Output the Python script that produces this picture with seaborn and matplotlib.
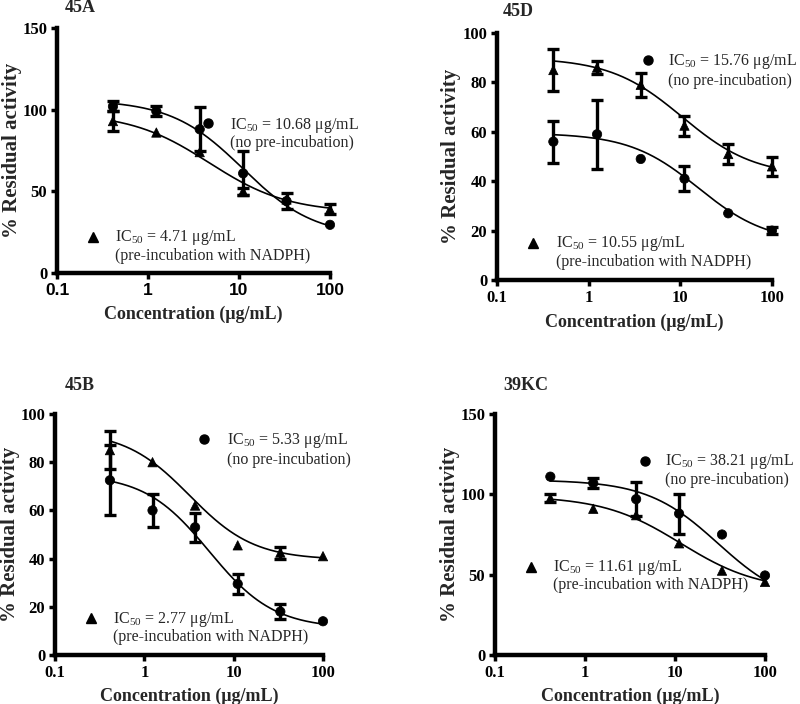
import numpy as np
import pandas as pd
import matplotlib
matplotlib.use("Agg")
import matplotlib.pyplot as plt
import seaborn as sns

# 3-fold dilution series (ug/mL)
conc = [0.412, 1.235, 3.70, 11.1, 33.3, 100]

# 45A
a_circ = [102, 99, 88, 61, 44, 29.5]
a_circ_err = [3, 3, 13.5, 13.5, 5, 0]
a_tri = [93, 86, 74, 50, 45, 39]
a_tri_err = [6, 0, 0, 2, 0, 3]
a_circ_fit = [106, 22, 11.0, 1.1]   # top, bottom, ec50, hill
a_tri_fit = [98, 37, 4.7, 1.0]

# 45D
d_circ = [56, 59, 49, 41, 27, 20]
d_circ_err = [8.5, 14, 0, 5, 0, 1.5]
d_tri = [85, 86, 79, 62.5, 51, 46]
d_tri_err = [8.5, 2.5, 5, 4, 4, 4]
d_circ_fit = [59.5, 15, 15.76, 1.15]
d_tri_fit = [90, 42, 10.5, 1.1]

# 45B
b_circ = [72.5, 60, 53, 29.5, 18, 14]
b_circ_err = [14.5, 7, 6, 4, 3, 0]
b_tri = [85, 80, 62, 45.5, 42.5, 41]
b_tri_err = [8, 0, 0, 0, 2.5, 0]
b_circ_fit = [75, 11, 5.33, 1.2]
b_tri_fit = [93, 39.5, 3.2, 1.2]

# 39KC
k_circ = [111, 107, 97, 88, 75, 49.5]
k_circ_err = [0, 3, 10.5, 12.5, 0, 0]
k_tri = [97.5, 91, 87, 69.5, 52.5, 45.5]
k_tri_err = [2.5, 0, 0, 0, 0, 0]
k_circ_fit = [109, 30, 30.0, 1.1]
k_tri_fit = [99, 40, 11.6, 1.0]

ic50_circ = ["10.68", "15.76", "5.33", "38.21"]
ic50_tri = ["4.71", "10.55", "2.77", "11.61"]
titles = ["45A", "45D", "45B", "39KC"]

sns.set_theme(style="ticks")
plt.rcParams["font.family"] = ["Liberation Serif", "DejaVu Serif"]
plt.rcParams["mathtext.fontset"] = "custom"
plt.rcParams["mathtext.rm"] = "Liberation Serif"
plt.rcParams["axes.edgecolor"] = "black"
plt.rcParams["xtick.color"] = "black"
plt.rcParams["ytick.color"] = "black"


def four_pl(x, top, bottom, ec50, hill):
    return bottom + (top - bottom) / (1 + (x / ec50) ** hill)


def rect(l, r, t, b):
    return [l / 800, 1 - b / 704, (r - l) / 800, (b - t) / 704]


panels = [
    dict(box=(57, 330, 28, 273), ymax=150, ystep=50,
         circ=a_circ, circ_err=a_circ_err, tri=a_tri, tri_err=a_tri_err,
         circ_fit=a_circ_fit, tri_fit=a_tri_fit,
         ckey=(0.553, 0.612), ctext=(0.634, 0.604, 0.531),
         tkey=(0.132, 0.147), ttext=(0.212, 0.143, 0.069),
         title_xy=(65, 8), sans_x=True),
    dict(box=(497, 772, 33, 280), ymax=100, ystep=20,
         circ=d_circ, circ_err=d_circ_err, tri=d_tri, tri_err=d_tri_err,
         circ_fit=d_circ_fit, tri_fit=d_tri_fit,
         ckey=(0.549, 0.891), ctext=(0.622, 0.883, 0.806),
         tkey=(0.131, 0.150), ttext=(0.215, 0.146, 0.073),
         title_xy=(503, 12), sans_x=False),
    dict(box=(55, 323, 414, 655), ymax=100, ystep=20,
         circ=b_circ, circ_err=b_circ_err, tri=b_tri, tri_err=b_tri_err,
         circ_fit=b_circ_fit, tri_fit=b_tri_fit,
         ckey=(0.556, 0.896), ctext=(0.642, 0.888, 0.809),
         tkey=(0.134, 0.154), ttext=(0.216, 0.149, 0.075),
         title_xy=(65, 385), sans_x=False),
    dict(box=(495, 765, 414, 655), ymax=150, ystep=50,
         circ=k_circ, circ_err=k_circ_err, tri=k_tri, tri_err=k_tri_err,
         circ_fit=k_circ_fit, tri_fit=k_tri_fit,
         ckey=(0.556, 0.805), ctext=(0.630, 0.801, 0.726),
         tkey=(0.133, 0.365), ttext=(0.215, 0.361, 0.290),
         title_xy=(503, 385), sans_x=False),
]

fig = plt.figure(figsize=(8, 7.04), dpi=100)

for i, p in enumerate(panels):
    ax = fig.add_axes(rect(*p["box"]))
    df = pd.DataFrame({
        "conc": conc * 2,
        "activity": p["circ"] + p["tri"],
        "err": p["circ_err"] + p["tri_err"],
        "group": ["circ"] * 6 + ["tri"] * 6,
    })

    # fitted sigmoid curves
    xs = np.logspace(np.log10(conc[0]), np.log10(conc[-1]), 300)
    for fit in (p["circ_fit"], p["tri_fit"]):
        sns.lineplot(x=xs, y=four_pl(xs, *fit), color="black", linewidth=1.2, ax=ax)

    sub = df[df["err"] > 0]
    ax.errorbar(sub["conc"], sub["activity"], yerr=sub["err"], fmt="none",
                ecolor="black", elinewidth=2.4, capsize=4, capthick=2.4, clip_on=False)
    sns.scatterplot(data=df, x="conc", y="activity", style="group",
                    markers={"circ": "o", "tri": "^"}, color="black", edgecolor="black",
                    s=45, legend=False, ax=ax, clip_on=False, zorder=5)

    ax.set_xscale("log")
    ax.set_xlim(0.1, 100)
    ax.set_ylim(0, p["ymax"])
    ax.minorticks_off()
    xfont = ["Liberation Sans", "DejaVu Sans"] if p["sans_x"] else ["Liberation Serif"]
    ax.set_xticks([0.1, 1, 10, 100], ["0.1", "1", "10", "100"], fontweight="bold",
                  family=xfont, fontsize=12.5 if p["sans_x"] else 12)
    yt = list(range(0, p["ymax"] + 1, p["ystep"]))
    ax.set_yticks(yt, [str(v) for v in yt], fontweight="bold", fontsize=12)
    ax.tick_params(axis="both", direction="out", length=4, width=2.5, pad=3)
    sns.despine(ax=ax)
    for s in ("left", "bottom"):
        ax.spines[s].set_linewidth(3.2)

    ax.set_xlabel("Concentration (μg/mL)", fontsize=13, fontweight="bold")
    ax.set_ylabel("% Residual activity", fontsize=15, fontweight="bold")
    ax.xaxis.set_label_coords(0.5, -0.135)
    ax.yaxis.set_label_coords(-0.13, 0.5)

    # IC50 keys
    ax.plot([p["ckey"][0]], [p["ckey"][1]], marker="o", color="black", ms=6.5,
            transform=ax.transAxes, clip_on=False)
    ax.plot([p["tkey"][0]], [p["tkey"][1]], marker="^", color="black", ms=6.5,
            transform=ax.transAxes, clip_on=False)
    cx, cy1, cy2 = p["ctext"]
    ax.text(cx, cy1, r"IC$_{\mathrm{50}}$ = " + ic50_circ[i] + " μg/mL",
            transform=ax.transAxes, fontsize=11.5, va="center")
    ax.text(cx, cy2, "(no pre-incubation)", transform=ax.transAxes,
            fontsize=11.5, va="center")
    tx, ty1, ty2 = p["ttext"]
    ax.text(tx, ty1, r"IC$_{\mathrm{50}}$ = " + ic50_tri[i] + " μg/mL",
            transform=ax.transAxes, fontsize=11.5, va="center")
    ax.text(tx, ty2, "(pre-incubation with NADPH)", transform=ax.transAxes,
            fontsize=11.5, va="center")

    fig.text(p["title_xy"][0] / 800, 1 - p["title_xy"][1] / 704, titles[i],
             fontsize=13, fontweight="bold", va="center", ha="left")

fig.savefig("out.png", dpi=100, facecolor="white")
